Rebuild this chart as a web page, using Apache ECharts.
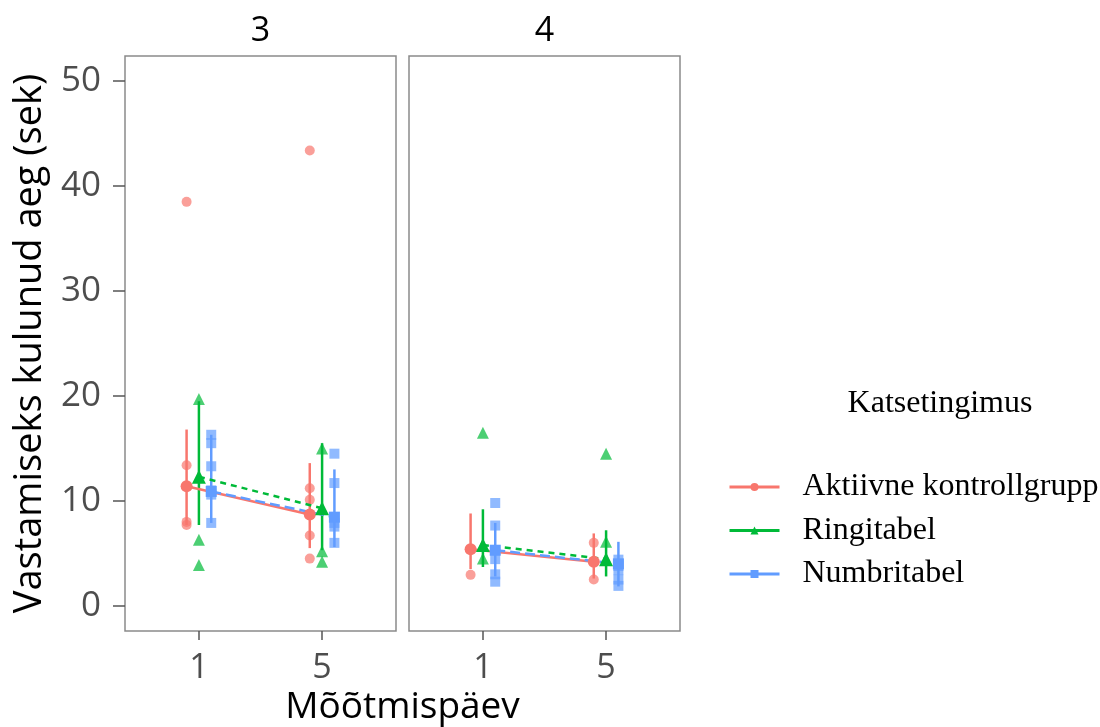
<!DOCTYPE html>
<html>
<head>
<meta charset="utf-8">
<script src="https://cdn.jsdelivr.net/npm/echarts@6/dist/echarts.min.js"></script>
<style>
  html, body { margin: 0; padding: 0; background: #fff; }
  #chart { width: 1100px; height: 727px; }
</style>
</head>
<body>
<div id="chart"></div>
<script>
// facet panels, days on x, groups (conditions)
const panels = ['3', '4'];
const days = ['1', '5'];
const groups = ['Aktiivne kontrollgrupp', 'Ringitabel', 'Numbritabel'];

// means and intervals, [group][day]
const mean3 = [[11.4, 8.7], [12.3, 9.3], [10.9, 8.45]];
const low3 = [[7.7, 5.5], [7.7, 5.3], [7.9, 5.6]];
const high3 = [[16.8, 13.6], [19.5, 15.5], [16.3, 13.0]];
const mean4 = [[5.4, 4.2], [5.8, 4.45], [5.3, 4.0]];
const low4 = [[3.5, 2.6], [3.7, 2.8], [2.8, 1.85]];
const high4 = [[8.8, 6.9], [9.2, 7.2], [7.9, 6.1]];

// raw observations, [group][day]
const raw3 = [
  [[38.5, 13.4, 8.0, 7.7], [43.4, 11.2, 10.1, 6.7, 4.5]],
  [[19.7, 6.3, 3.9], [15.0, 5.2, 4.2]],
  [[16.3, 15.5, 13.3, 11.0, 10.6, 7.9], [14.5, 11.7, 8.45, 7.9, 7.55, 6.0]]
];
const raw4 = [
  [[5.4, 2.95], [6.0, 4.2, 2.5]],
  [[16.5, 5.8, 4.5], [14.5, 6.1, 4.45]],
  [[9.8, 7.65, 5.3, 4.45, 3.0, 2.3], [4.4, 3.8, 3.4, 2.5, 1.9]]
];

const yTicks = [0, 10, 20, 30, 40, 50];

const colors = ['#F8766D', '#00BA38', '#619CFF'];
const symbols = ['circle', 'triangle', 'rect'];
const meanSizes = [12, 14, 11];
const rawSizes = [10, 12, 10];
const dashes = ['solid', [6, 5], [10, 5]];
const dodge = [-0.1, 0, 0.1];

const sans = 'Open Sans';
const serif = 'Liberation Serif';

const chart = echarts.init(document.getElementById('chart'));

const grids = [
  { left: 125, top: 56, width: 271, height: 575 },
  { left: 409, top: 56, width: 271, height: 575 }
].map(g => Object.assign(g, { show: true, borderColor: '#8a8a8a', borderWidth: 1.5, backgroundColor: '#fff' }));

const xAxes = grids.map((g, i) => ({
  type: 'value',
  gridIndex: i,
  min: 0.4,
  max: 2.6,
  position: 'bottom',
  axisLine: { show: false, onZero: false },
  splitLine: { show: false },
  axisTick: { show: true, customValues: [1, 2], length: 9, lineStyle: { color: '#555', width: 1.5 } },
  axisLabel: {
    customValues: [1, 2],
    formatter: v => days[Math.round(v) - 1],
    margin: 20,
    fontFamily: sans,
    fontSize: 34,
    color: '#4d4d4d'
  }
}));

const yAxes = grids.map((g, i) => ({
  type: 'value',
  gridIndex: i,
  min: -2.4,
  max: 52.4,
  axisLine: { show: false, onZero: false },
  splitLine: { show: false },
  axisTick: { show: i === 0, customValues: yTicks, length: 12, lineStyle: { color: '#555', width: 1.5 } },
  axisLabel: {
    show: i === 0,
    customValues: yTicks,
    margin: 24,
    fontFamily: sans,
    fontSize: 35,
    color: '#4d4d4d'
  }
}));

const series = [];
const sets = [
  { mean: mean3, low: low3, high: high3, raw: raw3 },
  { mean: mean4, low: low4, high: high4, raw: raw4 }
];

sets.forEach((s, p) => {
  groups.forEach((name, g) => {
    // mean line with symbols
    series.push({
      name: name,
      type: 'line',
      xAxisIndex: p,
      yAxisIndex: p,
      z: 5,
      symbol: symbols[g],
      symbolSize: meanSizes[g],
      itemStyle: { color: colors[g] },
      lineStyle: { color: colors[g], width: 2.5, type: dashes[g] },
      data: days.map((d, k) => [k + 1 + dodge[g], s.mean[g][k]]),
      emphasis: { disabled: true }
    });
    // raw points
    const pts = [];
    days.forEach((d, k) => {
      s.raw[g][k].forEach(v => pts.push([k + 1 + dodge[g], v]));
    });
    series.push({
      name: name,
      type: 'scatter',
      xAxisIndex: p,
      yAxisIndex: p,
      z: 2,
      symbol: symbols[g],
      symbolSize: rawSizes[g],
      itemStyle: { color: colors[g], opacity: 0.7 },
      data: pts,
      emphasis: { disabled: true }
    });
    // error bars
    series.push({
      name: name,
      type: 'custom',
      xAxisIndex: p,
      yAxisIndex: p,
      z: 3,
      data: days.map((d, k) => [k + 1 + dodge[g], s.low[g][k], s.high[g][k]]),
      renderItem: function (params, api) {
        const a = api.coord([api.value(0), api.value(1)]);
        const b = api.coord([api.value(0), api.value(2)]);
        return {
          type: 'line',
          shape: { x1: a[0], y1: a[1], x2: b[0], y2: b[1] },
          style: { stroke: colors[g], lineWidth: 2.5 }
        };
      },
      emphasis: { disabled: true }
    });
  });
});

chart.setOption({
  animation: false,
  grid: grids,
  xAxis: xAxes,
  yAxis: yAxes,
  series: series,
  legend: {
    orient: 'vertical',
    left: 723,
    top: 466,
    itemWidth: 50,
    itemHeight: 10,
    itemGap: 11.5,
    selectedMode: false,
    textStyle: { fontFamily: serif, fontSize: 32, lineHeight: 30, color: '#000', padding: [0, 0, 0, 18] },
    data: groups.map((n, g) => ({ name: n, lineStyle: { type: 'solid', width: 3 } }))
  },
  graphic: [
    { type: 'text', x: 260.5, y: 31, style: { text: panels[0], font: '34px "' + sans + '"', fill: '#000', textAlign: 'center', textVerticalAlign: 'middle' } },
    { type: 'text', x: 544.5, y: 31, style: { text: panels[1], font: '34px "' + sans + '"', fill: '#000', textAlign: 'center', textVerticalAlign: 'middle' } },
    { type: 'text', x: 402.5, y: 707, style: { text: 'Mõõtmispäev', font: '37px "' + sans + '"', fill: '#000', textAlign: 'center', textVerticalAlign: 'middle' } },
    { type: 'text', x: 30, y: 343.5, rotation: Math.PI / 2, style: { text: 'Vastamiseks kulunud aeg (sek)', font: '38px "' + sans + '"', fill: '#000', textAlign: 'center', textVerticalAlign: 'middle' } },
    { type: 'text', x: 940, y: 404, style: { text: 'Katsetingimus', font: '32px "' + serif + '"', fill: '#000', textAlign: 'center', textVerticalAlign: 'middle' } }
  ]
});
</script>
</body>
</html>
